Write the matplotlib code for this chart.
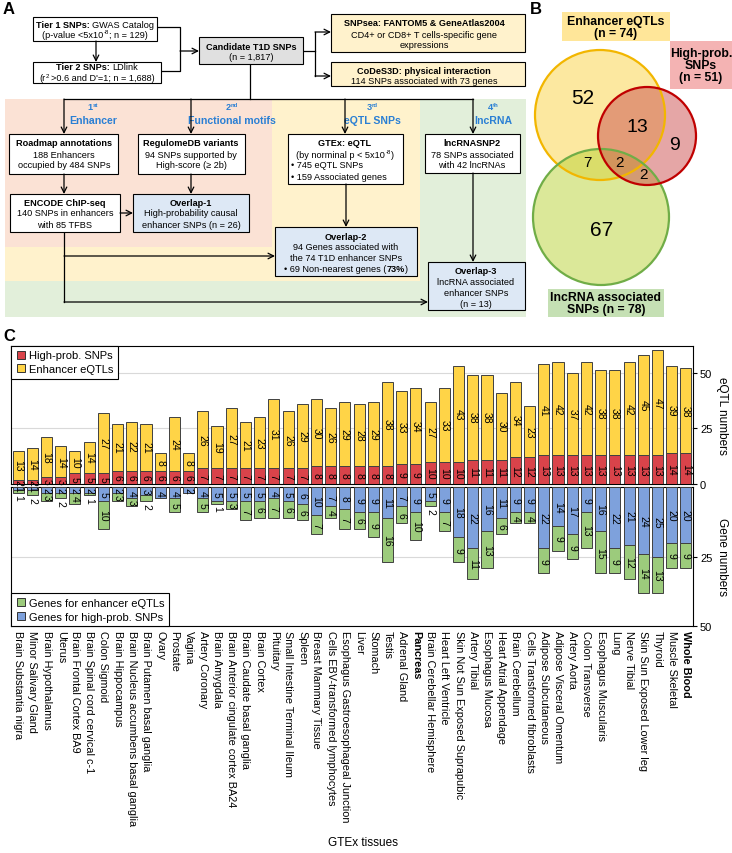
import numpy as np
import matplotlib.pyplot as plt
from matplotlib.patches import Rectangle, Circle
from matplotlib.lines import Line2D

plt.rcParams['font.family'] = ['Liberation Sans', 'DejaVu Sans']

# ---- panel C data ----
tissues = ['Brain Substantia nigra', 'Minor Salivary Gland', 'Brain Hypothalamus', 'Uterus',
           'Brain Frontal Cortex BA9', 'Brain Spinal cord cervical c-1', 'Colon Sigmoid',
           'Brain Hippocampus', 'Brain Nucleus accumbens basal ganglia', 'Brain Putamen basal ganglia',
           'Ovary', 'Prostate', 'Vagina', 'Artery Coronary', 'Brain Amygdala',
           'Brain Anterior cingulate cortex BA24', 'Brain Caudate basal ganglia', 'Brain Cortex',
           'Pituitary', 'Small Intestine Terminal Ileum', 'Spleen', 'Breast Mammary Tissue',
           'Cells EBV-transformed lymphocytes', 'Esophagus Gastroesophageal Junction', 'Liver',
           'Stomach', 'Testis', 'Adrenal Gland', 'Pancreas', 'Brain Cerebellar Hemisphere',
           'Heart Left Ventricle', 'Skin Not Sun Exposed Suprapubic', 'Artery Tibial',
           'Esophagus Mucosa', 'Heart Atrial Appendage', 'Brain Cerebellum',
           'Cells Transformed fibroblasts', 'Adipose Subcutaneous', 'Adipose Visceral Omentum',
           'Artery Aorta', 'Colon Transverse', 'Esophagus Muscularis', 'Lung', 'Nerve Tibial',
           'Skin Sun Exposed Lower leg', 'Thyroid', 'Muscle Skeletal', 'Whole Blood']
bold_tissues = ['Pancreas', 'Whole Blood']

high_prob_snps = [2, 2, 3, 3, 5, 5, 5, 6, 6, 6, 6, 6, 6, 7, 7, 7, 7, 7, 7, 7, 7, 8, 8, 8,
                  8, 8, 8, 9, 9, 10, 10, 10, 11, 11, 11, 12, 12, 13, 13, 13, 13, 13, 13, 13,
                  13, 13, 14, 14]
enhancer_eqtls = [13, 14, 18, 14, 10, 14, 27, 21, 22, 21, 8, 24, 8, 26, 19, 27, 21, 23, 31,
                  26, 29, 30, 26, 29, 28, 29, 38, 33, 34, 27, 33, 43, 38, 38, 30, 34, 23, 41,
                  42, 37, 42, 38, 38, 42, 45, 47, 39, 38]
genes_high_prob = [1, 1, 2, 2, 2, 2, 5, 2, 4, 3, 4, 4, 2, 4, 5, 5, 5, 5, 4, 5, 6, 10, 7, 8,
                   9, 9, 11, 7, 9, 5, 9, 18, 22, 16, 11, 9, 9, 22, 14, 17, 9, 16, 22, 21, 24,
                   25, 20, 20]
genes_enhancer = [1, 2, 3, 2, 4, 1, 10, 3, 3, 2, 0, 5, 0, 5, 1, 3, 7, 6, 7, 6, 6, 7, 4, 7,
                  6, 9, 16, 6, 10, 2, 7, 9, 11, 13, 6, 4, 4, 9, 9, 9, 13, 15, 9, 12, 14, 13,
                  9, 9]

# ---- panel B data ----
venn_values = [52, 13, 9, 7, 2, 2, 67]
venn_titles = ['Enhancer eQTLs\n(n = 74)', 'High-prob.\nSNPs\n(n = 51)', 'lncRNA associated\nSNPs (n = 78)']

red = '#d9434a'
yellow = '#ffd447'
blue = '#7ea1dc'
green = '#9ccb7c'
edge = '#404040'
link_blue = '#2a7fd4'

fig = plt.figure(figsize=(7.32, 8.54), dpi=100)
ov = fig.add_axes([0, 0, 1, 1])
ov.set_xlim(0, 732)
ov.set_ylim(854, 0)
ov.axis('off')
renderer = fig.canvas.get_renderer()


def text_width(s, size, bold):
    t = ov.text(0, 0, s, fontsize=size, fontweight='bold' if bold else 'normal')
    w = t.get_window_extent(renderer).width
    t.remove()
    return w


def rich(x, y, parts, size=6.6, ha='center', color='black'):
    sp = text_width('x x', size, False) - text_width('xx', size, False)
    items = []
    for p in parts:
        txt, bold = p[0], p[1]
        scale = p[2] if len(p) > 2 else 1.0
        rise = p[3] if len(p) > 3 else 0.0
        gap = sp if txt.startswith(' ') else 0
        t = ov.text(0, y + rise, txt.strip(), fontsize=size * scale,
                    fontweight='bold' if bold else 'normal', ha='left', va='center', color=color)
        items.append((t, gap, t.get_window_extent(renderer).width))
    total = sum(g + w for _, g, w in items)
    x0 = x - total / 2 if ha == 'center' else x
    for t, g, w in items:
        x0 += g
        t.set_x(x0)
        x0 += w


def box(x0, y0, x1, y1, fc='white'):
    ov.add_patch(Rectangle((x0, y0), x1 - x0, y1 - y0, fc=fc, ec='black', lw=0.8, zorder=3))


def line(xs, ys):
    ov.plot(xs, ys, color='black', lw=0.9, zorder=2)


def arrow(x0, y0, x1, y1):
    ov.annotate('', xy=(x1, y1), xytext=(x0, y0),
                arrowprops=dict(arrowstyle='->', lw=0.9, color='black',
                                shrinkA=0, shrinkB=0, mutation_scale=10), zorder=4)


# ---- panel A: flowchart ----
ov.add_patch(Rectangle((5, 100), 521, 218, fc='#e2efda', ec='none', zorder=0))
ov.add_patch(Rectangle((5, 100), 415, 182, fc='#fff2cc', ec='none', zorder=0))
ov.add_patch(Rectangle((5, 100), 267, 148, fc='#fbe2d5', ec='none', zorder=0))

box(33, 18, 157, 42)
rich(95, 25, [('Tier 1 SNPs:', True), (' GWAS Catalog', False)])
rich(95, 35.5, [('(p-value <5x10', False), ('-8', False, 0.65, -2.5), ('; n = 129)', False)])
box(33, 63, 161, 84)
rich(97, 68, [('Tier 2 SNPs:', True), (' LDlink', False)])
rich(97, 78.5, [('(r', False), ('2', False, 0.65, -2.5), (' >0.6 and D\'=1; n = 1,688)', False)])
box(199, 38, 303, 65, fc='#e0e0e0')
rich(251, 47, [('Candidate T1D SNPs', True)])
rich(251, 58, [('(n = 1,817)', False)])
box(331, 15, 525, 53, fc='#fff2cc')
rich(424, 24, [('SNPsea: FANTOM5 & GeneAtlas2004', True)])
rich(424, 35, [('CD4+ or CD8+ T cells-specific gene', False)])
rich(424, 46, [('expressions', False)])
box(331, 63, 525, 87, fc='#fff2cc')
rich(424, 71.5, [('CoDeS3D: physical interaction', True)])
rich(424, 82, [('114 SNPs associated with 73 genes', False)])

arrow(96, 42, 96, 63)
line([157, 180, 180, 161], [28, 28, 72, 72])
arrow(180, 52, 199, 52)
line([303, 315], [52, 52])
line([315, 315], [33, 77])
arrow(315, 33, 331, 33)
arrow(315, 77, 331, 77)
line([250, 250], [65, 100])
line([64, 473], [100, 100])
for xc in [64, 191, 345, 473]:
    arrow(xc, 100, xc, 135)

rich(93, 108, [('1', True), ('st', True, 0.65, -2.5)], size=6.6, color=link_blue)
rich(93, 121, [('Enhancer', True)], size=7.6, color=link_blue)
rich(232, 108, [('2', True), ('nd', True, 0.65, -2.5)], size=6.6, color=link_blue)
rich(232, 121, [('Functional motifs', True)], size=7.6, color=link_blue)
rich(372, 108, [('3', True), ('rd', True, 0.65, -2.5)], size=6.6, color=link_blue)
rich(372, 121, [('eQTL SNPs', True)], size=7.6, color=link_blue)
rich(493, 108, [('4', True), ('th', True, 0.65, -2.5)], size=6.6, color=link_blue)
rich(493, 121, [('lncRNA', True)], size=7.6, color=link_blue)

box(9, 135, 118, 175)
rich(64, 144, [('Roadmap annotations', True)])
rich(64, 155, [('188 Enhancers', False)])
rich(64, 166, [('occupied by 484 SNPs', False)])
box(138, 135, 245, 175)
rich(191, 144, [('RegulomeDB variants', True)])
rich(191, 155, [('94 SNPs supported by', False)])
rich(191, 166, [('High-score (\u2265 2b)', False)])
box(288, 135, 403, 185)
rich(345, 144, [('GTEx: eQTL', True)])
rich(345, 155, [('(by norminal p < 5x10', False), ('-8', False, 0.65, -2.5), (')', False)])
rich(291, 166, [('\u2022 745 eQTL SNPs', False)], ha='left')
rich(291, 177, [('\u2022 159 Associated genes', False)], ha='left')
box(425, 135, 520, 174)
rich(472, 144, [('lncRNASNP2', True)])
rich(472, 155, [('78 SNPs associated', False)])
rich(472, 166, [('with 42 lncRNAs', False)])

arrow(64, 175, 64, 195)
arrow(191, 175, 191, 195)
box(10, 195, 120, 233)
rich(65, 203, [('ENCODE ChIP-seq', True)])
rich(65, 214, [('140 SNPs in enhancers', False)])
rich(65, 225, [('with 85 TFBS', False)])
arrow(120, 214, 133, 214)
box(133, 195, 249, 233, fc='#dde8f5')
rich(191, 203, [('Overlap-1', True)])
rich(191, 214, [('High-probability causal', False)])
rich(191, 225, [('enhancer SNPs (n = 26)', False)])

arrow(346, 185, 346, 228)
box(275, 228, 417, 277, fc='#dde8f5')
rich(346, 237, [('Overlap-2', True)])
rich(346, 248, [('94 Genes associated with', False)])
rich(346, 259, [('the 74 T1D enhancer SNPs', False)])
rich(346, 270, [('\u2022 69 Non-nearest genes (', False), ('73%', True), (')', False)])

line([64, 64], [233, 303])
arrow(64, 257, 275, 257)
arrow(64, 303, 428, 303)
arrow(473, 174, 473, 263)
box(428, 263, 525, 311, fc='#dde8f5')
rich(476, 272, [('Overlap-3', True)])
rich(476, 283, [('lncRNA associated', False)])
rich(476, 294, [('enhancer SNPs', False)])
rich(476, 305, [('(n = 13)', False)])

# ---- panel B: venn ----
circles = [((600, 116), 65, '#fbd342', '#f2b600'),
           ((601, 218), 68, '#b9d335', '#70ad47'),
           ((647, 137), 49, '#cc4f4f', '#c00000')]
for (c, r, fc, ec) in circles:
    ov.add_patch(Circle(c, r, fc=fc, ec='none', alpha=0.5, zorder=2))
for (c, r, fc, ec) in circles:
    ov.add_patch(Circle(c, r, fc='none', ec=ec, lw=1.6, zorder=3))
venn_pos = [(583, 98, 15), (637, 127, 14), (674, 145, 14), (587, 163, 11),
            (620, 163, 11), (643, 175, 11), (602, 230, 15)]
for v, (xv, yv, fs) in zip(venn_values, venn_pos):
    ov.text(xv, yv, str(v), fontsize=fs, ha='center', va='center', zorder=5)

ov.add_patch(Rectangle((562, 13), 108, 29, fc='#ffe699', ec='none', zorder=1))
ov.text(616, 28, venn_titles[0], fontsize=8.8, fontweight='bold', ha='center', va='center',
        linespacing=1.0, zorder=5)
ov.add_patch(Rectangle((670, 42), 62, 48, fc='#f4b3b3', ec='none', zorder=1))
ov.text(701, 66, venn_titles[1], fontsize=8.8, fontweight='bold', ha='center', va='center',
        linespacing=1.0, zorder=5)
ov.add_patch(Rectangle((548, 290), 116, 28, fc='#c5e0b4', ec='none', zorder=1))
ov.text(606, 304, venn_titles[2], fontsize=8.8, fontweight='bold', ha='center', va='center',
        linespacing=1.0, zorder=5)

ov.text(3, 9, 'A', fontsize=12, fontweight='bold', va='center')
ov.text(530, 9, 'B', fontsize=12, fontweight='bold', va='center')
ov.text(3, 337, 'C', fontsize=12, fontweight='bold', va='center')

# ---- panel C: bars ----
W, H = 732, 854
ax1 = fig.add_axes([11 / W, 1 - 485 / H, 682 / W, 138 / H])
ax2 = fig.add_axes([11 / W, 1 - 627 / H, 682 / W, 139 / H])
x = np.arange(len(tissues))
hp = np.array(high_prob_snps)
ee = np.array(enhancer_eqtls)
gh = np.array(genes_high_prob)
ge = np.array(genes_enhancer)

ax1.bar(x, hp, width=0.78, color=red, edgecolor=edge, lw=0.7, zorder=3)
ax1.bar(x, ee, bottom=hp, width=0.78, color=yellow, edgecolor=edge, lw=0.7, zorder=3)
ax2.bar(x, gh, width=0.78, color=blue, edgecolor=edge, lw=0.7, zorder=3)
ax2.bar(x, ge, bottom=gh, width=0.78, color=green, edgecolor=edge, lw=0.7, zorder=3)

for i in x:
    ax1.text(i, hp[i] / 2, str(hp[i]), rotation=270, ha='center', va='center', fontsize=7.5, zorder=4)
    ax1.text(i, hp[i] + ee[i] / 2, str(ee[i]), rotation=270, ha='center', va='center', fontsize=7.5, zorder=4)
    ax2.text(i, gh[i] / 2, str(gh[i]), rotation=270, ha='center', va='center', fontsize=7.5, zorder=4)
    if ge[i] > 2:
        ax2.text(i, gh[i] + ge[i] / 2, str(ge[i]), rotation=270, ha='center', va='center', fontsize=7.5, zorder=4)
    elif ge[i] > 0:
        ax2.text(i, gh[i] + ge[i] + 0.6, str(ge[i]), rotation=270, ha='center', va='top', fontsize=7.5, zorder=4)

for ax in (ax1, ax2):
    ax.set_xlim(-0.5, len(tissues) - 0.5)
    ax.yaxis.grid(True, color='#d9d9d9', lw=0.8)
    ax.set_axisbelow(True)
    ax.tick_params(axis='y', left=False, right=True, labelleft=False, labelright=True,
                   labelsize=8, length=3, pad=2)
    ax.yaxis.set_label_position('right')
    for s in ax.spines.values():
        s.set_linewidth(0.8)

ax1.set_ylim(0, 62)
ax1.set_yticks([0, 25, 50])
ax1.set_xticks([])
ax1.set_ylabel('eQTL numbers', rotation=270, fontsize=8.5, labelpad=11)
ax2.set_ylim(50, 0)
ax2.set_yticks([25, 50])
ax2.set_ylabel('Gene numbers', rotation=270, fontsize=8.5, labelpad=11)
ax2.set_xticks(x)
ax2.set_xticklabels(tissues, rotation=270, fontsize=7.8, va='top', ha='center')
ax2.tick_params(axis='x', length=0, pad=3)
for lab in ax2.get_xticklabels():
    if lab.get_text() in bold_tissues:
        lab.set_fontweight('bold')

def sq(c):
    return Line2D([], [], marker='s', ls='', markerfacecolor=c, markeredgecolor='#333333',
                  markersize=6, markeredgewidth=0.7)

leg1 = ax1.legend([sq(red), sq(yellow)], ['High-prob. SNPs', 'Enhancer eQTLs'], loc='upper left',
                  fontsize=8, fancybox=False, edgecolor='black', framealpha=1, borderaxespad=0,
                  handletextpad=0.2, labelspacing=0.35, handlelength=1.0)
leg1.get_frame().set_linewidth(0.8)
leg2 = ax2.legend([sq(green), sq(blue)], ['Genes for enhancer eQTLs', 'Genes for high-prob. SNPs'],
                  loc='lower left', fontsize=8, fancybox=False, edgecolor='black', framealpha=1,
                  borderaxespad=0, handletextpad=0.2, labelspacing=0.35, handlelength=1.0)
leg2.get_frame().set_linewidth(0.8)

fig.text(363 / W, 1 - 843 / H, 'GTEx tissues', fontsize=8.5, ha='center', va='center')

fig.savefig('out.png', dpi=100)
